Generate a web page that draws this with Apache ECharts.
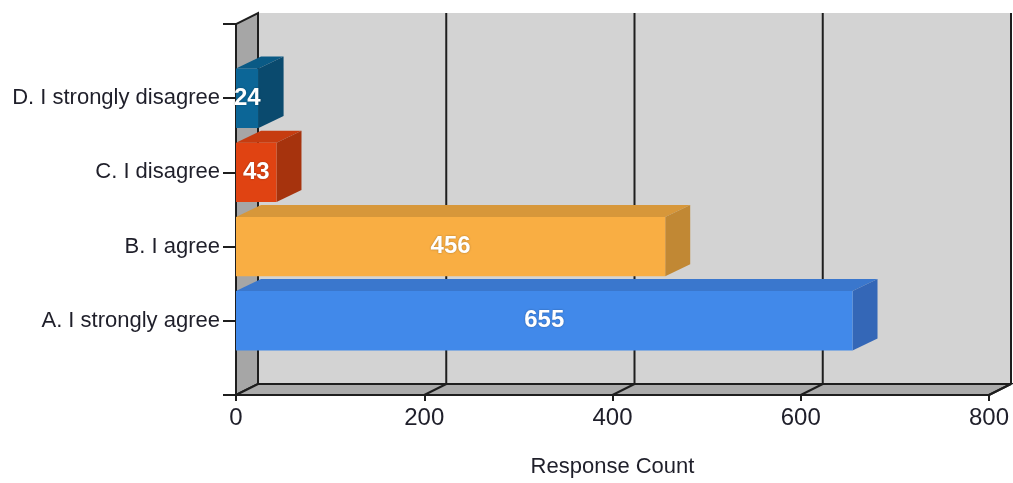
<!DOCTYPE html>
<html>
<head>
<meta charset="utf-8">
<script src="https://cdn.jsdelivr.net/npm/echarts@6/dist/echarts.min.js"></script>
<style>
  html, body { margin: 0; padding: 0; background: #fff; }
  #chart { width: 1013px; height: 483px; }
</style>
</head>
<body>
<div id="chart"></div>
<script>
// data (bottom to top)
const categories = ['A. I strongly agree', 'B. I agree', 'C. I disagree', 'D. I strongly disagree']
const counts = [655, 456, 43, 24]
const xMin = 0
const xMax = 800
const xStep = 200

// bar faces: front, top, side
const palette = [
  ['#4189ea', '#3a77cd', '#3467b7'],
  ['#f9ae43', '#d7973a', '#c18834'],
  ['#e04312', '#c63c10', '#a6330d'],
  ['#0c6697', '#0a5a85', '#0a4a6e']
]
const wallOff = [22, -11]
const barOff = [25, -12]
const font = '"Liberation Sans", Arial, sans-serif'

const chart = echarts.init(document.getElementById('chart'))

// back wall, left wall, floor and gridlines on the back wall
const renderWalls = (params, api) => {
  const yTop = categories.length + 1
  const o = api.coord([xMin, 0])
  const t = api.coord([xMin, yTop])
  const r = api.coord([xMax, 0])
  const sh = (p) => [p[0] + wallOff[0], p[1] + wallOff[1]]
  const line = { stroke: '#1e1e1e', lineWidth: 2 }
  const children = [
    {
      type: 'polygon',
      shape: { points: [sh(t), [sh(r)[0], sh(t)[1]], sh(r), sh(o)] },
      style: { fill: '#d3d3d3' }
    },
    {
      type: 'polygon',
      shape: { points: [o, t, sh(t), sh(o)] },
      style: Object.assign({ fill: '#a6a6a6' }, line)
    },
    {
      type: 'polygon',
      shape: { points: [o, sh(o), sh(r), r] },
      style: Object.assign({ fill: '#ababab' }, line)
    }
  ]
  for (let v = xMin + xStep; v <= xMax; v += xStep) {
    const f = api.coord([v, 0])
    const b = sh(f)
    children.push({ type: 'line', shape: { x1: f[0], y1: f[1], x2: b[0], y2: b[1] }, style: line })
    children.push({ type: 'line', shape: { x1: b[0], y1: b[1], x2: b[0], y2: sh(t)[1] }, style: line })
  }
  return { type: 'group', children }
}

const renderBar = (params, api) => {
  const v = api.value(0)
  const y = api.value(1)
  const c = palette[params.dataIndex]
  const p0 = api.coord([0, y - 0.4])
  const p1 = api.coord([v, y + 0.4])
  const x0 = p0[0]
  const x1 = p1[0]
  const yb = p0[1]
  const yt = p1[1]
  const [dx, dy] = barOff
  return {
    type: 'group',
    children: [
      {
        type: 'polygon',
        shape: { points: [[x0, yt], [x1, yt], [x1 + dx, yt + dy], [x0 + dx, yt + dy]] },
        style: { fill: c[1] }
      },
      {
        type: 'polygon',
        shape: { points: [[x1, yt], [x1, yb], [x1 + dx, yb + dy], [x1 + dx, yt + dy]] },
        style: { fill: c[2] }
      },
      {
        type: 'rect',
        shape: { x: x0, y: yt, width: x1 - x0, height: yb - yt },
        style: { fill: c[0] }
      },
      {
        type: 'text',
        style: {
          text: String(v),
          x: (x0 + x1) / 2,
          y: (yt + yb) / 2,
          align: 'center',
          verticalAlign: 'middle',
          fill: '#fff',
          font: 'bold 24px ' + font,
          textShadowColor: 'rgba(0,0,0,0.35)',
          textShadowBlur: 2
        }
      }
    ]
  }
}

chart.setOption({
  animation: false,
  grid: { left: 236, right: 24, top: 24, bottom: 87 },
  xAxis: {
    type: 'value',
    min: xMin,
    max: xMax,
    interval: xStep,
    z: 1,
    name: 'Response Count',
    nameLocation: 'middle',
    nameGap: 61,
    nameTextStyle: { fontSize: 22, color: '#1f1f2a', fontFamily: font },
    axisLine: { show: true, lineStyle: { color: '#1e1e1e', width: 2 } },
    axisTick: { show: true, length: 6, lineStyle: { color: '#1e1e1e', width: 2 } },
    axisLabel: { fontSize: 24, color: '#1f1f2a', fontFamily: font, margin: 11 },
    splitLine: { show: false }
  },
  yAxis: {
    type: 'value',
    min: 0,
    max: categories.length + 1,
    interval: 1,
    z: 1,
    axisLine: { show: true, lineStyle: { color: '#1e1e1e', width: 2 } },
    axisTick: { show: true, length: 13, lineStyle: { color: '#1e1e1e', width: 2 } },
    axisLabel: {
      fontSize: 22,
      color: '#1f1f2a',
      fontFamily: font,
      margin: 16,
      formatter: (v) => categories[v - 1] || ''
    },
    splitLine: { show: false }
  },
  series: [
    {
      type: 'custom',
      z: 0,
      silent: true,
      renderItem: renderWalls,
      data: [[0, 0]],
      clip: false
    },
    {
      type: 'custom',
      z: 2,
      renderItem: renderBar,
      data: counts.map((v, i) => [v, i + 1]),
      clip: false
    }
  ]
})
</script>
</body>
</html>
